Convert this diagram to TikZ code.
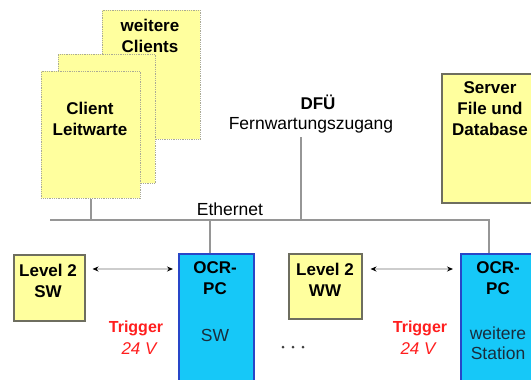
\documentclass[tikz,border=0pt]{standalone}
\usepackage{fontspec}
\setmainfont{Liberation Sans}
\usetikzlibrary{arrows.meta}
\definecolor{paleyellow}{RGB}{255,255,158}
\definecolor{clientedge}{RGB}{170,170,150}
\definecolor{boxedge}{RGB}{110,110,95}
\definecolor{pccyan}{RGB}{22,200,248}
\definecolor{pcedge}{RGB}{40,70,200}
\definecolor{netgray}{RGB}{150,150,150}
\definecolor{linkgray}{RGB}{205,205,205}
\definecolor{trigred}{RGB}{255,30,30}
\definecolor{pctext}{RGB}{25,45,60}
\tikzset{
  boxtext/.style={font=\fontsize{17}{21}\selectfont\bfseries, align=center, inner sep=0pt},
  plaintext/.style={font=\fontsize{17.5}{20}\selectfont, align=center, inner sep=0pt},
  clientbox/.style={draw=clientedge, densely dotted, line width=0.8pt, fill=paleyellow, inner sep=0pt, anchor=north west},
  yellowbox/.style={draw=boxedge, line width=1.5pt, fill=paleyellow, inner sep=0pt, anchor=north west},
  pcbox/.style={draw=pcedge, line width=1.5pt, fill=pccyan, inner sep=0pt, anchor=north west},
  net/.style={draw=netgray, line width=1.4pt},
  link/.style={draw=linkgray, line width=2.2pt, {Stealth[black,length=6pt,width=5pt]}-{Stealth[black,length=6pt,width=5pt]}},
  trig/.style={font=\fontsize{16}{20}\selectfont\bfseries, text=trigred, inner sep=0pt},
  volt/.style={font=\fontsize{17}{20}\selectfont\itshape, text=trigred, inner sep=0pt},
}
\begin{document}
\begin{tikzpicture}[x=1pt,y=-1pt]
\useasboundingbox (0,0) rectangle (531,380);
\clip (0,0) rectangle (531,380);

% stacked client workstations
\node[clientbox, minimum width=98pt, minimum height=129pt] (cback) at (102,10) {};
\node[boxtext] (cbackl) at (150,36) {weitere\\Clients};
\node[clientbox, minimum width=97pt, minimum height=129pt] (cmid) at (58,54) {};
\node[clientbox, minimum width=99pt, minimum height=127pt] (cfront) at (41,71) {};
\node[boxtext] (cfrontl) at (90,119) {Client\\Leitwarte};

% server
\node[yellowbox, minimum width=110pt, minimum height=129pt] (server) at (441,73) {};
\node[boxtext] (serverl) at (490,109) {Server\\File und\\Database};

% remote maintenance access
\node[boxtext] (dfu) at (318,102) {DFÜ};
\node[plaintext] (fern) at (311,125) {Fernwartungszugang};
\coordinate (dfuline) at (301,137);

% Ethernet backbone
\coordinate (ethL) at (50,220);
\coordinate (ethR) at (489,220);
\node[plaintext] (ethl) at (230,209) {Ethernet};

% lower row
\node[yellowbox, minimum width=71pt, minimum height=66pt] (l2sw) at (13,254) {};
\node[boxtext] (l2swl) at (48,281) {Level 2\\SW};
\node[pcbox, minimum width=75pt, minimum height=140pt] (ocr1) at (178,253) {};
\node[boxtext] (ocr1l) at (215,278) {OCR-\\PC};
\node[plaintext, text=pctext] (ocr1s) at (215,335) {SW};

\node[yellowbox, minimum width=73pt, minimum height=65pt] (l2ww) at (288,253) {};
\node[boxtext] (l2wwl) at (325,280) {Level 2\\WW};
\node[pcbox, minimum width=100pt, minimum height=140pt] (ocr2) at (460,253) {};
\node[boxtext] (ocr2l) at (498,278) {OCR-\\PC};
\node[plaintext, text=pctext] (ocr2s) at (498,343) {weitere\\Station};

% network drops
\draw[net] (ethL) -- (ethR) -- (ethR |- ocr2.north);
\draw[net] (cfront.south) -- (cfront.south |- ethL);
\draw[net] (dfuline) -- (dfuline |- ethL);
\draw[net] (ocr1.north -| 210,0) -- (210,220);

% level 2 <-> OCR links
\coordinate (lk) at (0,269);
\draw[link, shorten <=7pt, shorten >=5pt] (l2sw.east |- lk) -- (ocr1.west |- lk);
\draw[link, shorten <=8pt, shorten >=7pt] (l2ww.east |- lk) -- (ocr2.west |- lk);

% trigger signals
\node[trig] (trig1) at (136,328) {Trigger};
\node[volt] (volt1) at (139,349) {24 V};
\node[trig] (trig2) at (420,328) {Trigger};
\node[volt] (volt2) at (418,349) {24 V};

% continuation dots
\foreach \dx [count=\i] in {283,293,303}
  \fill[black!75] (\dx,347) circle (1.5pt) coordinate (dot\i);
\end{tikzpicture}
\end{document}
